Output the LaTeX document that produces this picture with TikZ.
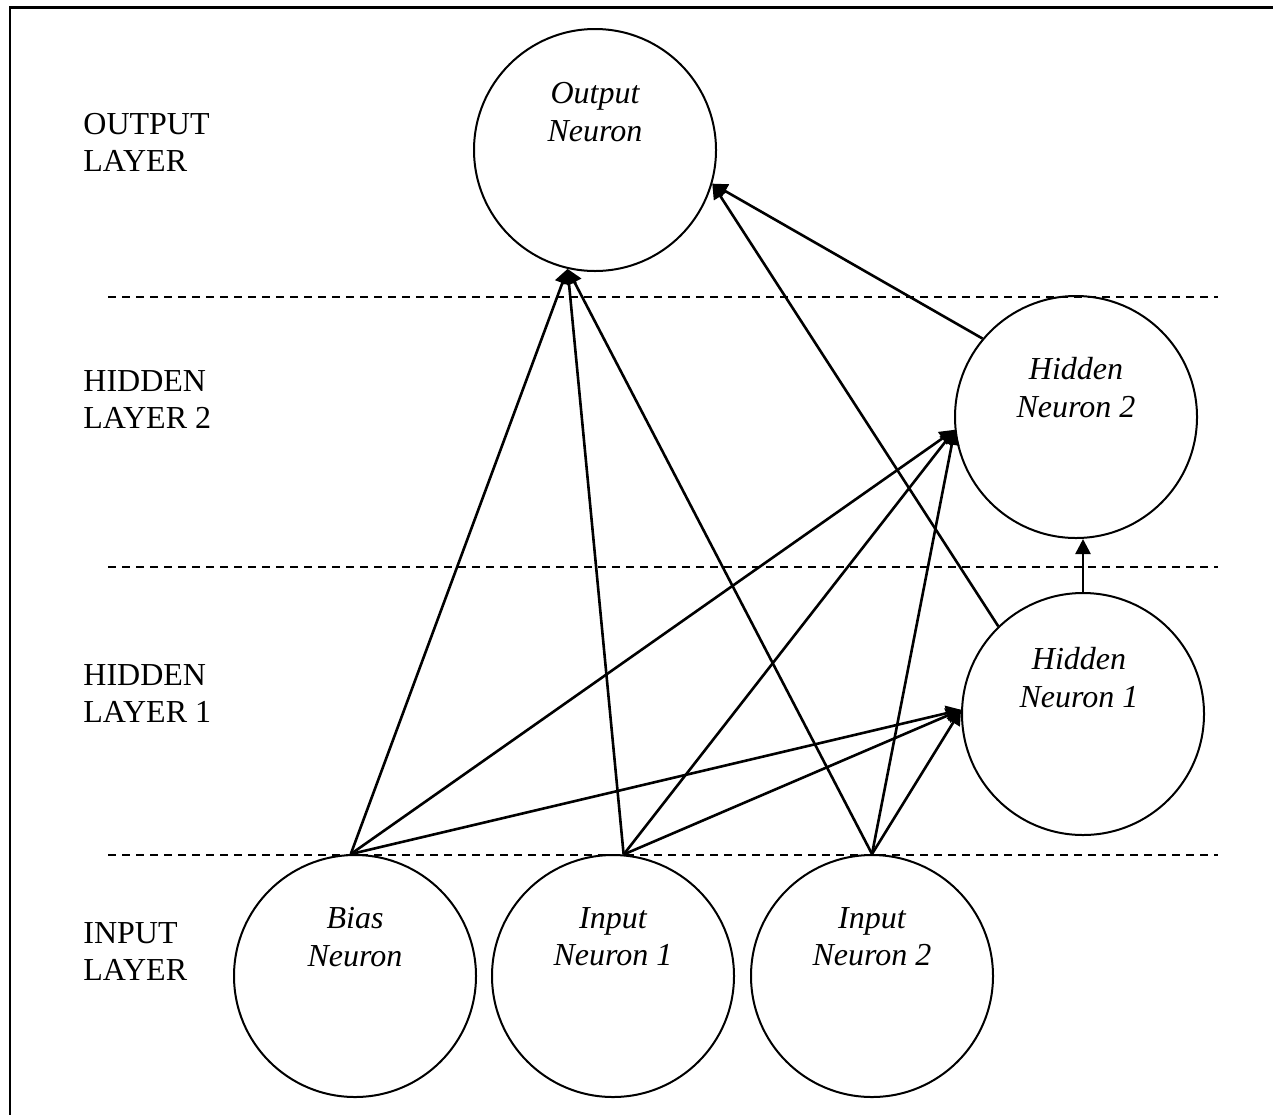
\documentclass[tikz,border=0pt]{standalone}
\usepackage{fontspec}
\setmainfont{Liberation Serif}
\usetikzlibrary{arrows.meta}
\begin{document}
\begin{tikzpicture}[x=0.5pt,y=-0.5pt,
  neuron/.style={circle,draw,line width=1pt,minimum size=121pt,inner sep=0pt},
  ntext/.style={anchor=north,font=\fontsize{16}{18.8}\selectfont\itshape,align=center,inner sep=0pt},
  layertext/.style={anchor=north west,font=\fontsize{16}{18.4}\selectfont,align=left,inner sep=0pt},
  conn/.style={line width=1.3pt,-{Triangle[length=7.5pt,width=7.5pt]}},
  sepline/.style={dash pattern=on 4pt off 3pt,line width=0.75pt}]
\clip (0,0) rectangle (1273,1114);
\useasboundingbox (0,0) rectangle (1273,1114);
\draw[line width=1.2pt] (10,7.5) rectangle (1300,1140);

% separators
\coordinate (d1a) at (108,297); \coordinate (d1b) at (1218,297);
\coordinate (d2a) at (108,567); \coordinate (d2b) at (1218,567);
\coordinate (d3a) at (108,855); \coordinate (d3b) at (1218,855);
\draw[sepline] (d1a) -- (d1b);
\draw[sepline] (d2a) -- (d2b);
\draw[sepline] (d3a) -- (d3b);

% layer labels
\node[layertext] (l1) at (83,113) {OUTPUT\\LAYER};
\node[layertext] (l2) at (83,370) {HIDDEN\\LAYER 2};
\node[layertext] (l3) at (83,664) {HIDDEN\\LAYER 1};
\node[layertext] (l4) at (83,922) {INPUT\\LAYER};

% neurons
\node[neuron] (out) at (595,150) {};
\node[neuron] (hn2) at (1076,417) {};
\node[neuron] (hn1) at (1083,714) {};
\node[neuron] (bias) at (355,976) {};
\node[neuron] (in1) at (613,976) {};
\node[neuron] (in2) at (872,976) {};

% neuron texts
\node[ntext] (outT) at (595,82) {Output\\Neuron};
\node[ntext] (hn2T) at (1076,357) {Hidden\\Neuron 2};
\node[ntext] (hn1T) at (1079,647) {Hidden\\Neuron 1};
\node[ntext] (biasT) at (355,907) {Bias\\Neuron};
\node[ntext] (in1T) at (613,907) {Input\\Neuron 1};
\node[ntext] (in2T) at (872,907) {Input\\Neuron 2};

% connection start points on the input neurons
\coordinate (sbias) at (bias.92);
\coordinate (sin1) at (in1.85);
\coordinate (sin2) at (in2.north);

% connections
\foreach \s in {sbias,sin1,sin2}{
  \draw[conn] (\s) -- (out.257);
  \draw[conn] (\s) -- (hn2.186);
  \draw[conn] (\s) -- (hn1.178);
}
\draw[conn] (hn1.134) -- (out.-16);
\draw[conn] (hn2.140) -- (out.-16);
\draw[conn] (hn1.north) -- (hn1.north |- hn2.south);
\end{tikzpicture}
\end{document}
